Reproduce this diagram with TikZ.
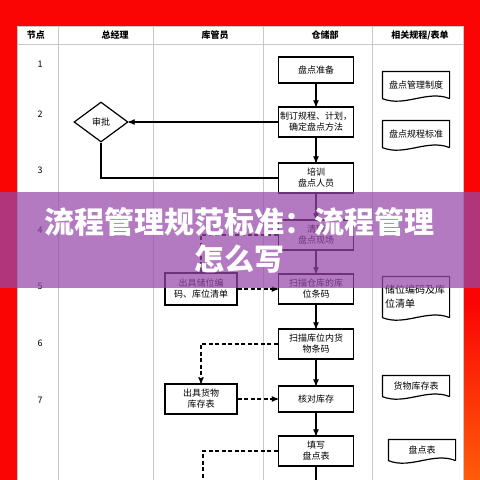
\documentclass[tikz,border=0pt]{standalone}
\usepackage{fontspec}
\newfontfamily\cjk{Noto Sans CJK SC}
\usetikzlibrary{arrows,shapes.geometric}

\definecolor{bgred}{RGB}{250,4,4}
\definecolor{bgorange}{RGB}{255,92,10}
\definecolor{band}{RGB}{150,72,170}
\definecolor{gridgray}{RGB}{200,200,200}

\begin{document}
\begin{tikzpicture}[x=1pt,y=-1pt,>=stealth',line width=1.2pt,font=\cjk\fontsize{9}{11}\selectfont,
	box/.style={draw,minimum width=75pt,minimum height=30pt,align=center,inner sep=0pt},
	decide/.style={draw,diamond,aspect=1.35,minimum width=54pt,minimum height=40pt,inner sep=0pt},
	doc/.style={minimum width=66pt,minimum height=26pt,align=center,inner sep=1pt},
	flow/.style={->},
	info/.style={->,dash pattern=on 4pt off 2.5pt},
	grid/.style={gridgray,line width=0.6pt}]

	\useasboundingbox (0,0) rectangle (480,480);
	\fill[bgred] (0,0) rectangle (480,480);
	\shade[top color=bgred,bottom color=bgorange] (463,300) rectangle (480,480);
	\fill[white] (17,26) rectangle (463,480);
	\draw[grid] (17,480) -- (17,26) -- (463,26) -- (463,480);
	\draw[grid] (17,44) -- (463,44);
	\foreach \x in {58,153,263,372}
		\draw[grid] (\x,26) -- (\x,480);

	\node[font=\cjk\bfseries\fontsize{9}{11}\selectfont] (hnode) at (36,35) {节点};
	\node[font=\cjk\bfseries\fontsize{9}{11}\selectfont] (hgm) at (115,35) {总经理};
	\node[font=\cjk\bfseries\fontsize{9}{11}\selectfont] (hkeeper) at (215,35) {库管员};
	\node[font=\cjk\bfseries\fontsize{9}{11}\selectfont] (hstore) at (325,35) {仓储部};
	\node[font=\cjk\bfseries\fontsize{9}{11}\selectfont] (hdoc) at (420,35) {相关规程/表单};

	\foreach \n/\y in {1/64,2/114,3/170,4/230,5/286,6/343,7/400}
		\node (r\n) at (40,\y) {\n};

	\node[box,minimum height=26pt] (prep) at (316,70) {盘点准备};
	\node[box] (plan) at (316,122) {制订规程、计划，\\确定盘点方法};
	\node[box] (train) at (316,178) {培训\\盘点人员};
	\node[box] (clean) at (316,235) {清理\\盘点现场};
	\node[box] (scan1) at (316,289) {扫描仓库的库\\位条码};
	\node[box] (scan2) at (316,344) {扫描库位内货\\物条码};
	\node[box,minimum height=26pt] (check) at (316,399) {核对库存};
	\node[box] (fill) at (316,451) {填写\\盘点表};
	\coordinate (fillend) at (316,480);

	\node[decide] (appr) at (101,122) {审批};

	\node[box,minimum width=72pt,minimum height=32pt] (loc) at (201,289) {出具储位编\\码、库位清单};
	\node[box,minimum width=72pt] (stock) at (201,399) {出具货物\\库存表};
	\coordinate (stockend) at (203,480);

	\node[doc] (d1) at (416,85) {盘点管理制度};
	\node[doc] (d2) at (416,134) {盘点规程标准};
	\node[doc,minimum height=40pt,text width=62pt,align=left,font=\cjk\fontsize{10}{14}\selectfont] (d3) at (416,297) {储位编码及库\\位清单};
	\node[doc,minimum height=20pt] (d4) at (416,386) {货物库存表};
	\node[doc,minimum height=20pt] (d5) at (422,450) {盘点表};
	\foreach \d in {d1,d2,d3,d4,d5}
		\draw (\d.south east) -- (\d.north east) -- (\d.north west) -- (\d.south west)
			.. controls +(22,9) and +(-22,-9) .. (\d.south east);

	\path[flow]
		(prep) edge (plan)
		(plan) edge (train)
		(train) edge (clean)
		(clean) edge (scan1)
		(scan1) edge (scan2)
		(scan2) edge (check)
		(check) edge (fill)
		(plan) edge (appr);
	\draw (fill) -- (fillend);
	\draw (appr.south) |- (train.west);

	\draw[info] (clean.west) -| (loc.north);
	\draw[info] (loc.east) -- (scan1.west);
	\draw[info] (scan2.west) -| (stock.north);
	\draw[info] (stock.east) -- (check.west);
	\draw[info,-] (fill.west) -| (stockend);

	\fill[band,opacity=0.72] (0,192) rectangle (480,288);
	\node[text=white,align=center,font=\cjk\bfseries\fontsize{30}{37}\selectfont] (title) at (240,240) {流程管理规范标准：流程管理\\怎么写};
\end{tikzpicture}
\end{document}
